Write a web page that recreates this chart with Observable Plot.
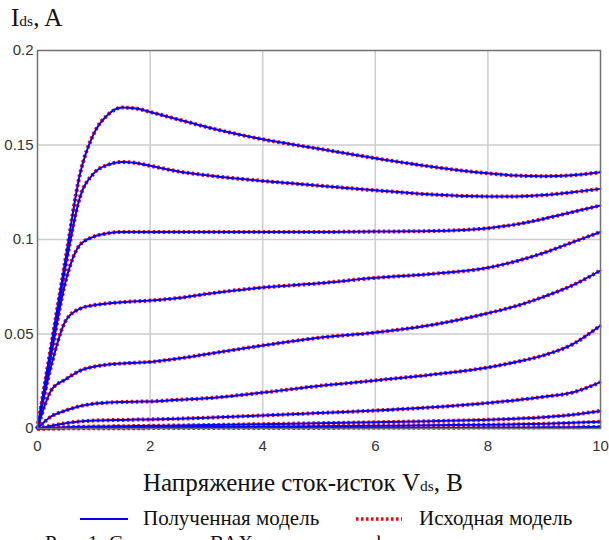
<!DOCTYPE html>
<html><head><meta charset="utf-8">
<script src="https://cdn.jsdelivr.net/npm/d3@7"></script>
<script src="https://cdn.jsdelivr.net/npm/@observablehq/plot@0.6"></script>
<style>
body{margin:0;background:#fff;}
#wrap{position:relative;width:609px;height:540px;overflow:hidden;background:#fff;}
#chart{position:absolute;left:0;top:0;}
.serif{font-family:"Liberation Serif","Times New Roman",serif;color:#111;position:absolute;white-space:nowrap;line-height:1;}
.sub{font-size:0.62em;}
</style></head>
<body><div id="wrap">
<div id="chart"></div>
<div class="serif" style="left:11px;top:5px;font-size:25px;">I<span class="sub">ds</span>, A</div>
<div class="serif" style="left:143px;top:470px;font-size:25px;">Напряжение сток-исток V<span class="sub">ds</span>, В</div>
<svg style="position:absolute;left:0;top:505px" width="609" height="28">
  <line x1="80" x2="128" y1="14" y2="14" stroke="#0000ff" stroke-width="2"/>
  <line x1="356" x2="402" y1="14" y2="14" stroke="#ff0000" stroke-width="3.5" stroke-dasharray="2.5,2.5"/>
</svg>
<div class="serif" style="left:143px;top:508px;font-size:21px;">Полученная модель</div>
<div class="serif" style="left:419px;top:508px;font-size:21px;">Исходная модель</div>
<div class="serif" style="left:45px;top:533px;font-size:21px;">Рис. 1. Сравнение ВАХ по модели и формуле</div>
</div>
<script>
const vds = [0,0.25,0.5,0.75,1,1.25,1.5,1.75,2,2.5,3,4,5,6,7,8,8.5,9,9.5,10];
const curve1 = [0,0.045,0.09,0.134,0.156,0.166,0.1698,0.1693,0.1675,0.1635,0.1595,0.153,0.148,0.143,0.1385,0.135,0.1338,0.1335,0.134,0.1356];
const curve2 = [0,0.043,0.086,0.122,0.135,0.1395,0.141,0.1405,0.139,0.136,0.134,0.131,0.1285,0.126,0.1238,0.1228,0.1228,0.1235,0.125,0.1268];
const curve3 = [0,0.04,0.078,0.097,0.1015,0.1033,0.104,0.104,0.104,0.104,0.104,0.104,0.104,0.1042,0.1045,0.106,0.108,0.111,0.1145,0.118];
const curve4 = [0,0.034,0.057,0.0633,0.0652,0.0662,0.0668,0.0673,0.0677,0.069,0.0712,0.0746,0.0768,0.0797,0.0818,0.085,0.0885,0.093,0.0985,0.104];
const curve5 = [0,0.0205,0.026,0.0305,0.0327,0.0338,0.0344,0.0348,0.0352,0.037,0.0393,0.0439,0.048,0.0508,0.0548,0.061,0.0648,0.0698,0.0757,0.0836];
const curve6 = [0,0.0065,0.0095,0.0118,0.0131,0.0137,0.014,0.0142,0.0143,0.0152,0.016,0.019,0.0225,0.0254,0.0285,0.0323,0.0352,0.0388,0.0445,0.0545];
const curve7 = [0,0.0015,0.0028,0.0037,0.0042,0.0044,0.0045,0.0047,0.0048,0.0052,0.0057,0.0069,0.0082,0.0095,0.0112,0.0135,0.015,0.0168,0.019,0.0245];
const curve8 = [0,0.0004,0.0007,0.0009,0.001,0.0011,0.0012,0.0013,0.0014,0.0016,0.0018,0.0023,0.0028,0.0033,0.0039,0.0046,0.0052,0.006,0.0073,0.0093];
const curve9 = [0,0.0001,0.0002,0.0003,0.0004,0.0004,0.0005,0.0005,0.0006,0.0007,0.0008,0.001,0.0012,0.0014,0.0017,0.002,0.0022,0.0025,0.003,0.0036];
const curve10 = [0,0,0.0001,0.0001,0.0001,0.0001,0.0001,0.0001,0.0002,0.0002,0.0002,0.0003,0.0003,0.0004,0.0004,0.0005,0.0005,0.0006,0.0007,0.0008];
const xTicks = [0,2,4,6,8,10];
const yTicks = [0,0.05,0.1,0.15,0.2];
const xGrid = [2,4,6,8];
const yGrid = [0.05,0.1,0.15];

const curves = [curve1,curve2,curve3,curve4,curve5,curve6,curve7,curve8,curve9,curve10];
const rows = [];
curves.forEach((c,i)=>c.forEach((v,j)=>rows.push({vds:vds[j], ids:v, curve:i})));

const chart = Plot.plot({
  width:609, height:460,
  marginLeft:37, marginRight:9, marginTop:50, marginBottom:32,
  style:{fontFamily:"'Liberation Sans', Arial, sans-serif", fontSize:"15px", color:"#333", background:"transparent"},
  x:{domain:[0,10]},
  y:{domain:[0,0.2]},
  marks:[
    Plot.gridX(xGrid,{stroke:"#cccccc", strokeOpacity:1, strokeWidth:1.5}),
    Plot.gridY(yGrid,{stroke:"#cccccc", strokeOpacity:1, strokeWidth:1.5}),
    Plot.axisX(xTicks,{tickSize:0, tickPadding:12, label:null, tickFormat:d=>String(d)}),
    Plot.axisY(yTicks,{tickSize:0, tickPadding:4, label:null, tickFormat:d=>String(d)}),
    Plot.line(rows,{x:"vds", y:"ids", z:"curve", stroke:"#ff0000", strokeWidth:4, strokeDasharray:"2.4,2.6", strokeLinecap:"butt", curve:"monotone-x"}),
    Plot.line(rows,{x:"vds", y:"ids", z:"curve", stroke:"#0000ff", strokeWidth:2, curve:"monotone-x"}),
    Plot.frame({stroke:"#707070", strokeWidth:1.5})
  ]
});
document.getElementById("chart").appendChild(chart);
</script>
</body></html>
